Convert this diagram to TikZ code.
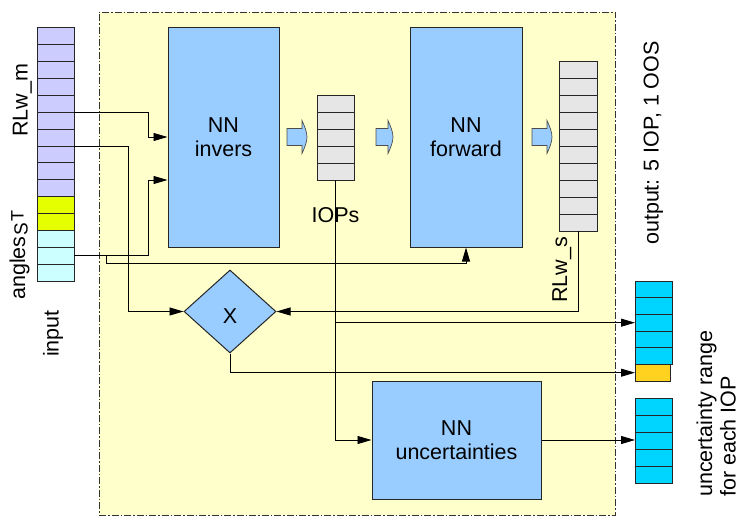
\documentclass[tikz,border=0pt]{standalone}
\usepackage{fontspec}
\setmainfont{Liberation Sans}
\usetikzlibrary{arrows.meta,shapes.geometric,calc}
\definecolor{boxyellow}{HTML}{FFFFCC}
\definecolor{nnblue}{HTML}{99CCFF}
\definecolor{lav}{HTML}{CCCCFF}
\definecolor{ygreen}{HTML}{E6FF00}
\definecolor{lcyan}{HTML}{CCFFFF}
\definecolor{lgray}{HTML}{E6E6E6}
\definecolor{ocyan}{HTML}{00D5FF}
\definecolor{oyellow}{HTML}{FFD21F}
\begin{document}
\begin{tikzpicture}[x=1pt,y=-1pt,
  every node/.style={font=\fontsize{21.5}{24}\selectfont},
  cell/.style={draw=black!85, line width=1pt, minimum width=37pt, inner sep=0pt, outer sep=0pt},
  nnbox/.style={draw=black!85, fill=nnblue, line width=1pt, inner sep=0pt, align=center},
  conn/.style={draw=black, line width=0.9pt},
  arr/.style={conn, -{Triangle[length=14pt,width=8pt]}},
  lbl/.style={rotate=90, anchor=base west, inner sep=0pt},
  blockarrow/.style={fill=nnblue, draw=black!70, line width=0.7pt}
]
\useasboundingbox (0,0) rectangle (739,524);

% frame
\node[draw=black!80, fill=boxyellow, line width=0.9pt, dash pattern=on 7pt off 2pt on 1.5pt off 2pt,
      minimum width=516pt, minimum height=503pt, inner sep=0pt, outer sep=0pt] (frame) at (357,263.5) {};

% NN boxes
\node[nnbox, minimum width=111pt, minimum height=219pt] (inv) at (223.5,137.5) {NN\\invers};
\node[nnbox, minimum width=112pt, minimum height=219pt] (fwd) at (466,137.5) {NN\\forward};
\node[nnbox, minimum width=169pt, minimum height=118pt] (unc) at (456.5,440) {NN\\uncertainties};

% diamond
\node[diamond, draw=black!85, fill=nnblue, line width=1pt, minimum width=92pt, minimum height=83pt,
      inner sep=0pt, label={[yshift=-4.5pt]center:X}] (dia) at (230,311.5) {};

% input array
\foreach \i in {1,...,10} \node[cell, minimum height=16.87pt, fill=lav] (in\i) at (55.5,{28+(\i-0.5)*16.87}) {};
\foreach \i in {11,12} \node[cell, minimum height=16.87pt, fill=ygreen] (in\i) at (55.5,{28+(\i-0.5)*16.87}) {};
\foreach \i in {13,14,15} \node[cell, minimum height=16.87pt, fill=lcyan] (in\i) at (55.5,{28+(\i-0.5)*16.87}) {};

% RLw_s array
\foreach \i in {1,...,10} \node[cell, minimum height=16.9pt, minimum width=38pt, fill=lgray] (rs\i) at (578,{62+(\i-0.5)*16.9}) {};

% IOPs array
\foreach \i in {1,...,5} \node[cell, minimum height=16.8pt, fill=lgray] (iop\i) at (335.5,{96+(\i-0.5)*16.8}) {};

% output array
\foreach \i in {1,...,5} \node[cell, minimum height=16.67pt, fill=ocyan] (out\i) at (653.5,{281+(\i-0.5)*16.67}) {};
\node[cell, minimum height=16.67pt, minimum width=35pt, fill=oyellow] (out6) at (652.5,{281+5.5*16.67}) {};

% uncertainty array
\foreach \i in {1,...,5} \node[cell, minimum height=17pt, fill=ocyan] (un\i) at (653.5,{398+(\i-0.5)*17}) {};

% block arrows
\foreach \a/\b in {287/302,376/388,532/547}{
  \filldraw[blockarrow] (\a,128.5) -- (\b,128.5) -- (\b,120.5)
    .. controls (\b+2.5,126) and (\b+5,132) .. (\b+5,137)
    .. controls (\b+5,142) and (\b+2.5,148) .. (\b,153.5)
    -- (\b,145.5) -- (\a,145.5) -- cycle;
}

% connectors
\coordinate (ja) at (148,137);
\coordinate (jb) at (148,180);
\coordinate (jc) at (128.5,0);
\coordinate (jd) at (106,0);
\draw[arr] (in5.south east) -| (ja) -- (ja -| inv.west);
\draw[arr] (in14.east) -| (jb) -- (jb -| inv.west);
\draw[arr] (in7.south east) -| (jc |- dia.west) -- (dia.west);
\draw[arr] (jd |- in14.east) -- ++(0,8) -| (fwd.south);
\draw[arr] (rs10.south) |- (dia.east);
\draw[arr] (iop5.south) |- (unc.west);
\draw[arr] (iop5.south |- out3.west) -- (out3.west);
\draw[arr] (dia.south) |- (out6.west);
\draw[arr] (unc.east) -- (unc.east -| un3.west);

% labels
\node[lbl] (lrlwm) at (27.5,137) {RLw\_m};
\node[lbl] (lang) at (25,300) {angles\kern1pt\raisebox{-2.5pt}{\fontsize{19}{19}\selectfont S}\kern1pt\raisebox{1.5pt}{\fontsize{18}{18}\selectfont T}};
\node[lbl] (linput) at (58.5,357) {input};
\node[lbl] (loutput) at (658.5,245) {output: 5 IOP, 1 OOS};
\node[lbl] (lunc1) at (712,497) {uncertainty range};
\node[lbl] (lunc2) at (735.5,497) {for each IOP};
\node[lbl] (lrlws) at (567,303) {RLw\_s};
\node[anchor=base, inner sep=0pt] (liops) at (335.5,222) {IOPs};
\end{tikzpicture}
\end{document}
